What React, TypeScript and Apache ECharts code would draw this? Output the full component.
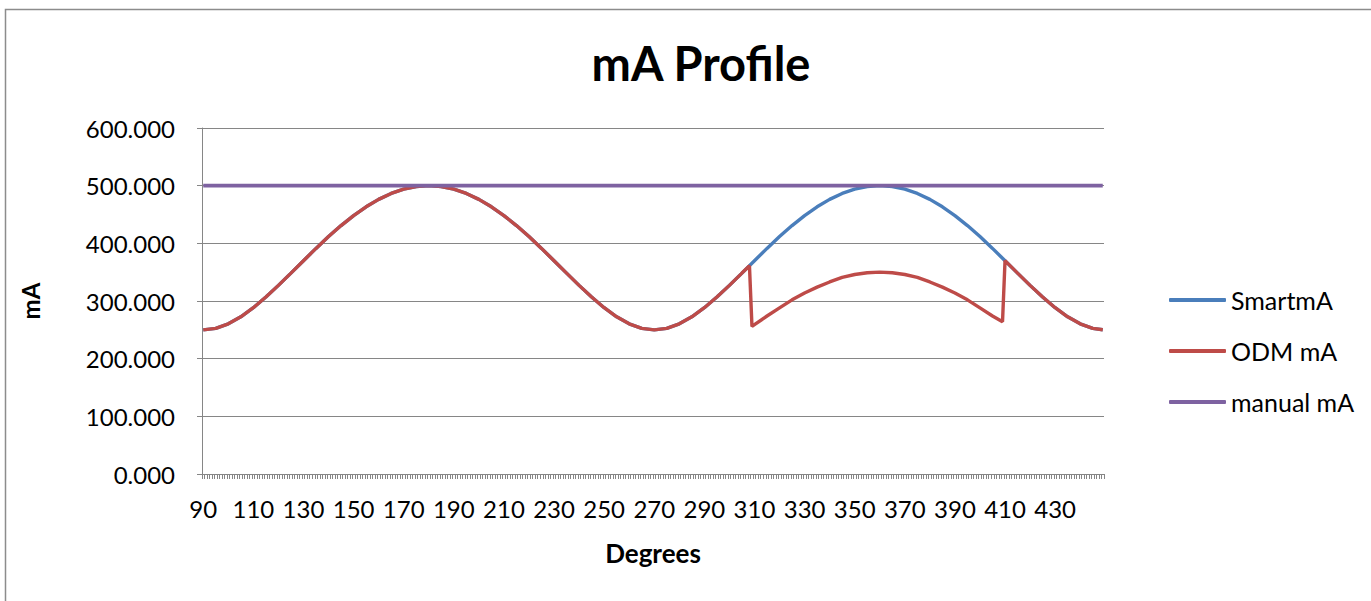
import React, { useEffect, useRef } from "react";
import * as echarts from "echarts";

// Category axis: one category per degree, 90..449
const firstDeg = 90;
const lastDeg = 449;
const categories: string[] = [];
for (let d = firstDeg; d <= lastDeg; d++) categories.push(String(d));

const yTicks = [0, 100, 200, 300, 400, 500, 600];

// SmartmA values (degrees, mA)
const smartDeg = [
  90, 95, 100, 105, 110, 115, 120, 125, 130, 135, 140, 145, 150, 155, 160, 165, 170, 175,
  180, 185, 190, 195, 200, 205, 210, 215, 220, 225, 230, 235, 240, 245, 250, 255, 260, 265,
  270, 275, 280, 285, 290, 295, 300, 305, 310, 315, 320, 325, 330, 335, 340, 345, 350, 355,
  360, 365, 370, 375, 380, 385, 390, 395, 400, 405, 410, 415, 420, 425, 430, 435, 440, 445, 449,
];
const smartVal = [
  250, 252.6, 260.4, 272.5, 288.3, 306.8, 327.1, 348.4, 369.9, 391.2, 411.7, 430.8, 448.1, 463.3, 476.2, 486.5, 493.9, 498.5,
  500, 498.5, 493.9, 486.5, 476.2, 463.3, 448.1, 430.8, 411.7, 391.2, 369.9, 348.4, 327.1, 306.8, 288.3, 272.5, 260.4, 252.6,
  250, 252.6, 260.4, 272.5, 288.3, 306.8, 327.1, 348.4, 369.9, 391.2, 411.7, 430.8, 448.1, 463.3, 476.2, 486.5, 493.9, 498.5,
  500, 498.5, 493.9, 486.5, 476.2, 463.3, 448.1, 430.8, 411.7, 391.2, 369.9, 348.4, 327.1, 306.8, 288.3, 272.5, 260.4, 252.6, 250.1,
];

// ODM mA values (degrees, mA)
const odmDeg = [
  90, 95, 100, 105, 110, 115, 120, 125, 130, 135, 140, 145, 150, 155, 160, 165, 170, 175,
  180, 185, 190, 195, 200, 205, 210, 215, 220, 225, 230, 235, 240, 245, 250, 255, 260, 265,
  270, 275, 280, 285, 290, 295, 300, 305, 308, 309, 310, 315, 320, 325, 330, 335, 340, 345, 350, 355,
  360, 365, 370, 375, 380, 385, 390, 395, 400, 405, 409, 410, 415, 420, 425, 430, 435, 440, 445, 449,
];
const odmVal = [
  250, 252.6, 260.4, 272.5, 288.3, 306.8, 327.1, 348.4, 369.9, 391.2, 411.7, 430.8, 448.1, 463.3, 476.2, 486.5, 493.9, 498.5,
  500, 498.5, 493.9, 486.5, 476.2, 463.3, 448.1, 430.8, 411.7, 391.2, 369.9, 348.4, 327.1, 306.8, 288.3, 272.5, 260.4, 252.6,
  250, 252.6, 260.4, 272.5, 288.3, 306.8, 327.1, 348.4, 361, 256, 259, 274, 288, 302, 314, 324, 333, 341, 346, 349,
  350, 349, 346, 341, 333, 324, 314, 302, 288, 274, 264, 370, 348.4, 327.1, 306.8, 288.3, 272.5, 260.4, 252.6, 250.1,
];

// manual mA (flat)
const manualDeg = [90, 449];
const manualVal = [500, 500];

const seriesNames = ["SmartmA", "ODM mA", "manual mA"];
const seriesColors = ["#4A7EBB", "#BE4B48", "#7E62A1"];

const pairs = (degs: number[], vals: number[]) => degs.map((d, i) => [String(d), vals[i]]);

export default function App() {
  const ref = useRef<HTMLDivElement>(null);
  useEffect(() => {
    if (!ref.current) return;
    const chart = echarts.init(ref.current, null, { renderer: "svg" });
    const font = "Lato, 'Noto Sans', sans-serif";
    const axisGray = "#868686";
    chart.setOption({
      animation: false,
      backgroundColor: "#ffffff",
      textStyle: { fontFamily: font },
      graphic: [
        {
          type: "rect",
          shape: { x: 5.5, y: 9.5, width: 1400, height: 700 },
          style: { fill: "none", stroke: "#8c8c8c", lineWidth: 1.5 },
          silent: true,
          z: -10,
        },
      ],
      title: {
        text: "mA Profile",
        left: 696,
        textAlign: "center",
        top: 34,
        textStyle: { fontFamily: font, fontWeight: "bold", fontSize: 47, color: "#000" },
      },
      legend: {
        orient: "vertical",
        left: 1164,
        top: 280,
        itemWidth: 57,
        itemHeight: 4,
        itemGap: 21,
        icon: "roundRect",
        data: seriesNames,
        textStyle: { fontFamily: font, fontSize: 25, color: "#000", lineHeight: 30 },
      },
      grid: { left: 202, right: 267, top: 128, bottom: 127, containLabel: false },
      xAxis: {
        type: "category",
        data: categories,
        boundaryGap: true,
        name: "Degrees",
        nameLocation: "middle",
        nameGap: 66,
        nameTextStyle: { fontFamily: font, fontWeight: "bold", fontSize: 26, color: "#000" },
        axisLine: { lineStyle: { color: axisGray, width: 1 } },
        axisTick: { show: true, interval: 0, length: 5, lineStyle: { color: axisGray } },
        axisLabel: { interval: 19, margin: 22, fontFamily: font, fontSize: 24, color: "#000" },
        splitLine: { show: false },
      },
      yAxis: {
        type: "value",
        min: yTicks[0],
        max: yTicks[yTicks.length - 1],
        interval: 100,
        name: "mA",
        nameLocation: "middle",
        nameRotate: 90,
        nameGap: 160,
        nameTextStyle: { fontFamily: font, fontWeight: "bold", fontSize: 24, color: "#000" },
        axisLine: { show: true, lineStyle: { color: axisGray, width: 1 } },
        axisTick: { show: true, length: 5, lineStyle: { color: axisGray } },
        axisLabel: {
          margin: 27,
          fontFamily: font,
          fontSize: 24,
          color: "#000",
          formatter: (v: number) => v.toFixed(3),
        },
        splitLine: { show: true, lineStyle: { color: axisGray, width: 1 } },
      },
      series: [
        {
          name: seriesNames[0],
          type: "line",
          data: pairs(smartDeg, smartVal),
          showSymbol: false,
          symbol: "none",
          lineStyle: { color: seriesColors[0], width: 3.4 },
          itemStyle: { color: seriesColors[0] },
          z: 2,
        },
        {
          name: seriesNames[1],
          type: "line",
          data: pairs(odmDeg, odmVal),
          showSymbol: false,
          symbol: "none",
          lineStyle: { color: seriesColors[1], width: 3.4 },
          itemStyle: { color: seriesColors[1] },
          z: 3,
        },
        {
          name: seriesNames[2],
          type: "line",
          data: pairs(manualDeg, manualVal),
          showSymbol: false,
          symbol: "none",
          lineStyle: { color: seriesColors[2], width: 3.8 },
          itemStyle: { color: seriesColors[2] },
          z: 4,
        },
      ],
    });
    return () => chart.dispose();
  }, []);
  return (
    <div
      ref={ref}
      style={{ position: "fixed", left: 0, top: 0, width: 1371, height: 601, background: "#fff" }}
    />
  );
}
